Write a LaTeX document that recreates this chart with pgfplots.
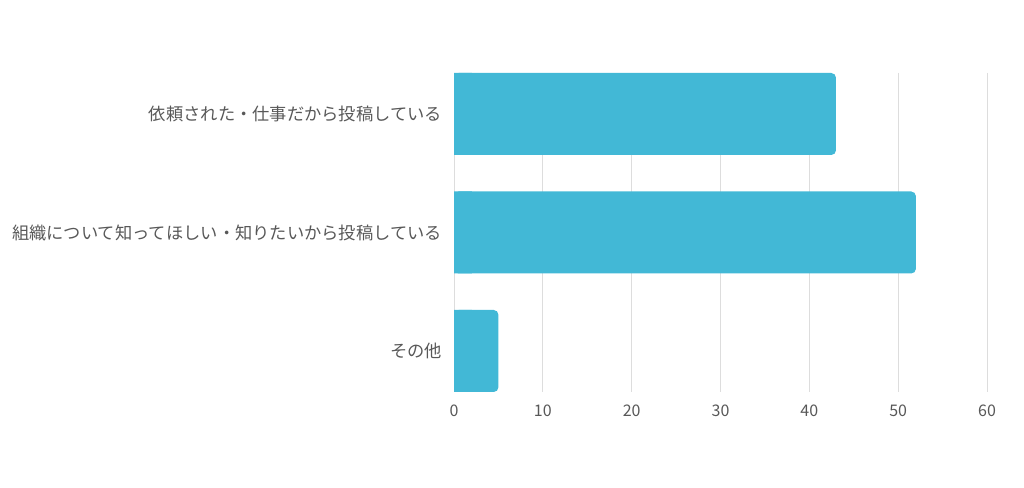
\documentclass[border=0pt]{standalone}
\usepackage{pgfplots}
\pgfplotsset{compat=1.18}
\usepackage{fontspec}
\setmainfont{Noto Sans CJK JP}
\definecolor{barc}{RGB}{66,184,214}
\definecolor{gridc}{RGB}{221,221,221}
\definecolor{txt}{RGB}{88,88,88}
\begin{document}
\begin{tikzpicture}
\path[use as bounding box] (0pt,0pt) rectangle (768pt,366pt);
\begin{axis}[
  at={(340.5pt,72pt)}, anchor=south west,
  scale only axis, width=399.75pt, height=239.25pt,
  xmin=0, xmax=60, ymin=-0.346, ymax=2.346, y dir=reverse,
  xbar, bar width=0.692, bar shift=0pt,
  xtick={0,10,...,60}, ytick={0,1,2},
  yticklabels={依頼された・仕事だから投稿している,組織について知ってほしい・知りたいから投稿している,その他},
  xmajorgrids, major grid style={gridc, line width=0.75pt},
  axis x line*=bottom, x axis line style={draw=none},
  axis y line*=left,
  y axis line style={gridc, line width=0.75pt, -},
  major tick length=0pt,
  tick label style={text=txt},
  x tick label style={font=\fontsize{12}{14}\selectfont, yshift=-6pt},
  y tick label style={font=\fontsize{12.95}{14}\selectfont, xshift=-5.5pt},
  /pgf/number format/assume math mode=true,
  clip=false,
]
\addplot[fill=barc, draw=none, rounded corners=3.5pt] coordinates {(43,0) (52,1) (5,2)};
\addplot[fill=barc, draw=none, x filter/.expression={min(x,2)}] coordinates {(43,0) (52,1) (5,2)};
\end{axis}
\end{tikzpicture}
\end{document}
